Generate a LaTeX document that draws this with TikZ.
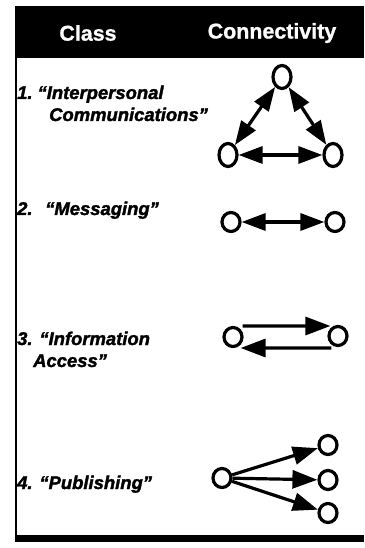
\documentclass[tikz,border=0pt]{standalone}
\usepackage{fontspec}
\setmainfont{Liberation Sans}[BoldItalicFeatures={FakeBold=1.8},BoldFeatures={FakeBold=1}]
\usetikzlibrary{arrows.meta,shapes.geometric}
\begin{document}
\begin{tikzpicture}[x=1bp,y=-1bp,
  vtx/.style={draw,line width=3.2bp,shape=ellipse,inner sep=0pt,minimum width=18bp,minimum height=19bp},
  tall/.style={minimum height=23bp},
  both/.style={line width=3.2bp,{Triangle[length=24bp,width=17bp]}-{Triangle[length=24bp,width=17bp]}},
  one/.style={line width=3.2bp,-{Triangle[length=25bp,width=18bp]}},
  lbl/.style={anchor=base west,inner sep=0pt,font=\fontsize{18.5}{21}\selectfont\bfseries\itshape},
  hdr/.style={inner sep=0pt,text=white,font=\fontsize{21.5}{24}\selectfont\bfseries}]
\useasboundingbox (0,0) rectangle (364,548);
% frame
\fill[black] (15,6) rectangle (364,58);
\fill[black] (15,535) rectangle (364,542);
\draw[line width=2.4bp] (16,58) -- (16,536);
\node[hdr] (hclass) at (88,33) {Class};
\node[hdr] (hconn) at (272,33) {Connectivity};
% labels
\node[lbl] (l1a) at (17,99) {1.\hspace{5bp}“Interpersonal};
\node[lbl] (l1b) at (49,121) {Communications”};
\node[lbl] (l2a) at (17,215) {2.};
\node[lbl] (l2b) at (45,215) {“Messaging”};
\node[lbl] (l3a) at (17,345) {3. “Information};
\node[lbl] (l3b) at (33,367) {Access”};
\node[lbl] (l4) at (17,489) {4. “Publishing”};
% row 1
\node[vtx,tall] (a) at (282,77) {};
\node[vtx,tall] (b) at (228,155) {};
\node[vtx,tall] (c) at (333,155) {};
\draw[both] (a) -- (b);
\draw[both] (a) -- (c);
\draw[both] (b) -- (c);
% row 2
\node[vtx] (m1) at (231,222) {};
\node[vtx] (m2) at (335,222) {};
\draw[both] (m1) -- (m2);
% row 3
\node[vtx] (i1) at (233,337) {};
\node[vtx] (i2) at (338,336) {};
\draw[one] ([xshift=-1bp,yshift=11bp]i1.east) -- ([xshift=3bp,yshift=10bp]i2.west);
\draw[one] ([xshift=4bp,yshift=-12bp]i2.west) -- ([xshift=-3bp,yshift=-11bp]i1.east);
% row 4
\node[vtx] (p0) at (222,478) {};
\node[vtx] (p1) at (328,445) {};
\node[vtx] (p2) at (328,480) {};
\node[vtx] (p3) at (328,513) {};
\draw[one] (p0) -- (p1);
\draw[one] (p0) -- (p2);
\draw[one] (p0) -- (p3);
\end{tikzpicture}
\end{document}
